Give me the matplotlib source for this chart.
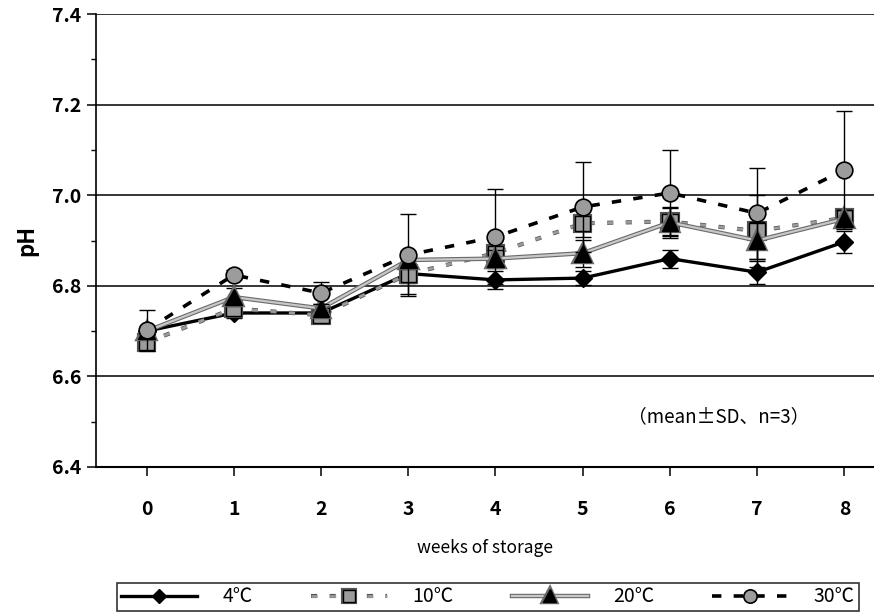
import matplotlib
matplotlib.use("Agg")
import matplotlib.pyplot as plt
import matplotlib.patheffects as pe
from matplotlib.ticker import MultipleLocator

plt.rcParams['font.family'] = ['Noto Sans CJK JP', 'DejaVu Sans']

weeks = [0, 1, 2, 3, 4, 5, 6, 7, 8]
week_labels = ["0", "1", "2", "3", "4", "5", "6", "7", "8"]

ph_4 = [6.700, 6.740, 6.740, 6.827, 6.813, 6.817, 6.860, 6.830, 6.897]
sd_4 = [0.010, 0.010, 0.010, 0.045, 0.020, 0.015, 0.020, 0.025, 0.024]

ph_10 = [6.675, 6.750, 6.735, 6.826, 6.872, 6.938, 6.942, 6.921, 6.950]
sd_10 = [0.010, 0.015, 0.010, 0.020, 0.030, 0.030, 0.030, 0.080, 0.020]

ph_20 = [6.700, 6.775, 6.750, 6.857, 6.860, 6.872, 6.940, 6.900, 6.948]
sd_20 = [0.010, 0.020, 0.010, 0.020, 0.020, 0.030, 0.035, 0.040, 0.020]

ph_30 = [6.702, 6.824, 6.784, 6.868, 6.908, 6.974, 7.005, 6.960, 7.056]
sd_30 = [0.045, 0.010, 0.024, 0.090, 0.105, 0.100, 0.095, 0.100, 0.130]

labels = ["4℃", "10℃", "20℃", "30℃"]

fig = plt.figure(figsize=(8.74, 6.15), dpi=100)
ax = fig.add_axes([96/874, (615-467)/615, 1 - 96/874, (467-14)/615])

eb_kw = dict(ecolor='black', elinewidth=1.0, capsize=5.5, capthick=1.0)

# 4 C
ax.errorbar(weeks, ph_4, yerr=sd_4, fmt='none', zorder=2, **eb_kw)
l4, = ax.plot(weeks, ph_4, color='black', lw=2.4, marker='D', ms=9,
              mfc='black', mec='black', zorder=3, label=labels[0])
# 10 C
ax.errorbar(weeks, ph_10, yerr=sd_10, fmt='none', zorder=4, **eb_kw)
l10, = ax.plot(weeks, ph_10, color='#9a9a9a', lw=2.0, ls=(0, (2.2, 4.5)),
               marker='s', ms=11, mfc='#9c9c9c', mec='black', mew=1.0,
               zorder=5, label=labels[1],
               path_effects=[pe.Stroke(linewidth=3.0, foreground='#555555'), pe.Normal()])
# 20 C
ax.errorbar(weeks, ph_20, yerr=sd_20, fmt='none', zorder=6, **eb_kw)
l20, = ax.plot(weeks, ph_20, color='#c8c8c8', lw=1.6, marker='^', ms=12,
               mfc='black', mec='black', zorder=7, label=labels[2],
               path_effects=[pe.Stroke(linewidth=3.2, foreground='#6a6a6a'), pe.Normal()])
# 30 C
ax.errorbar(weeks, ph_30, yerr=sd_30, fmt='none', zorder=8, **eb_kw)
l30, = ax.plot(weeks, ph_30, color='black', lw=2.6, ls=(0, (2.6, 3.4)),
               marker='o', ms=12, mfc='#9c9c9c', mec='black', mew=1.2,
               zorder=9, label=labels[3])

ax.set_xlim(-0.58, 8.34)
ax.set_ylim(6.4, 7.4)
ax.set_xticks(weeks)
ax.set_xticklabels(week_labels)
ax.yaxis.set_minor_locator(MultipleLocator(0.1))
ax.set_yticks([6.4, 6.6, 6.8, 7.0, 7.2, 7.4])
ax.set_yticklabels(["6.4", "6.6", "6.8", "7.0", "7.2", "7.4"])

ax.grid(axis='y', which='major', color='black', lw=1.1, zorder=1)
ax.set_axisbelow(True)
for s in ['top', 'right']:
    ax.spines[s].set_visible(False)
ax.spines['left'].set_linewidth(1.2)
ax.spines['bottom'].set_linewidth(1.5)

ax.tick_params(axis='y', which='major', direction='out', length=6.5, width=1.1,
               labelsize=14, pad=4)
ax.tick_params(axis='y', which='minor', direction='out', length=3.5, width=1.0)
ax.tick_params(axis='x', which='major', direction='out', length=6.5, width=1.1,
               labelsize=14, pad=17)
for t in ax.get_xticklabels() + ax.get_yticklabels():
    t.set_fontweight('bold')

ax.set_ylabel("pH", fontsize=16, fontweight='bold', labelpad=10)
ax.set_xlabel("weeks of storage", fontsize=12.5, labelpad=15)

ax.text(0.80, 0.11, "（mean±SD、n=3）", transform=ax.transAxes, fontsize=13.5,
        ha='center', va='center')

leg = fig.legend(handles=[l4, l10, l20, l30], loc='center', ncol=4,
                 bbox_to_anchor=(488/874, 1 - 597/615), frameon=True,
                 fancybox=False, edgecolor='black', handlelength=3.9,
                 columnspacing=3.0, handletextpad=1.3, fontsize=14,
                 borderpad=0.2, borderaxespad=0.0, markerscale=0.8)
leg.get_frame().set_linewidth(1.2)

fig.savefig("out.png", dpi=100)
